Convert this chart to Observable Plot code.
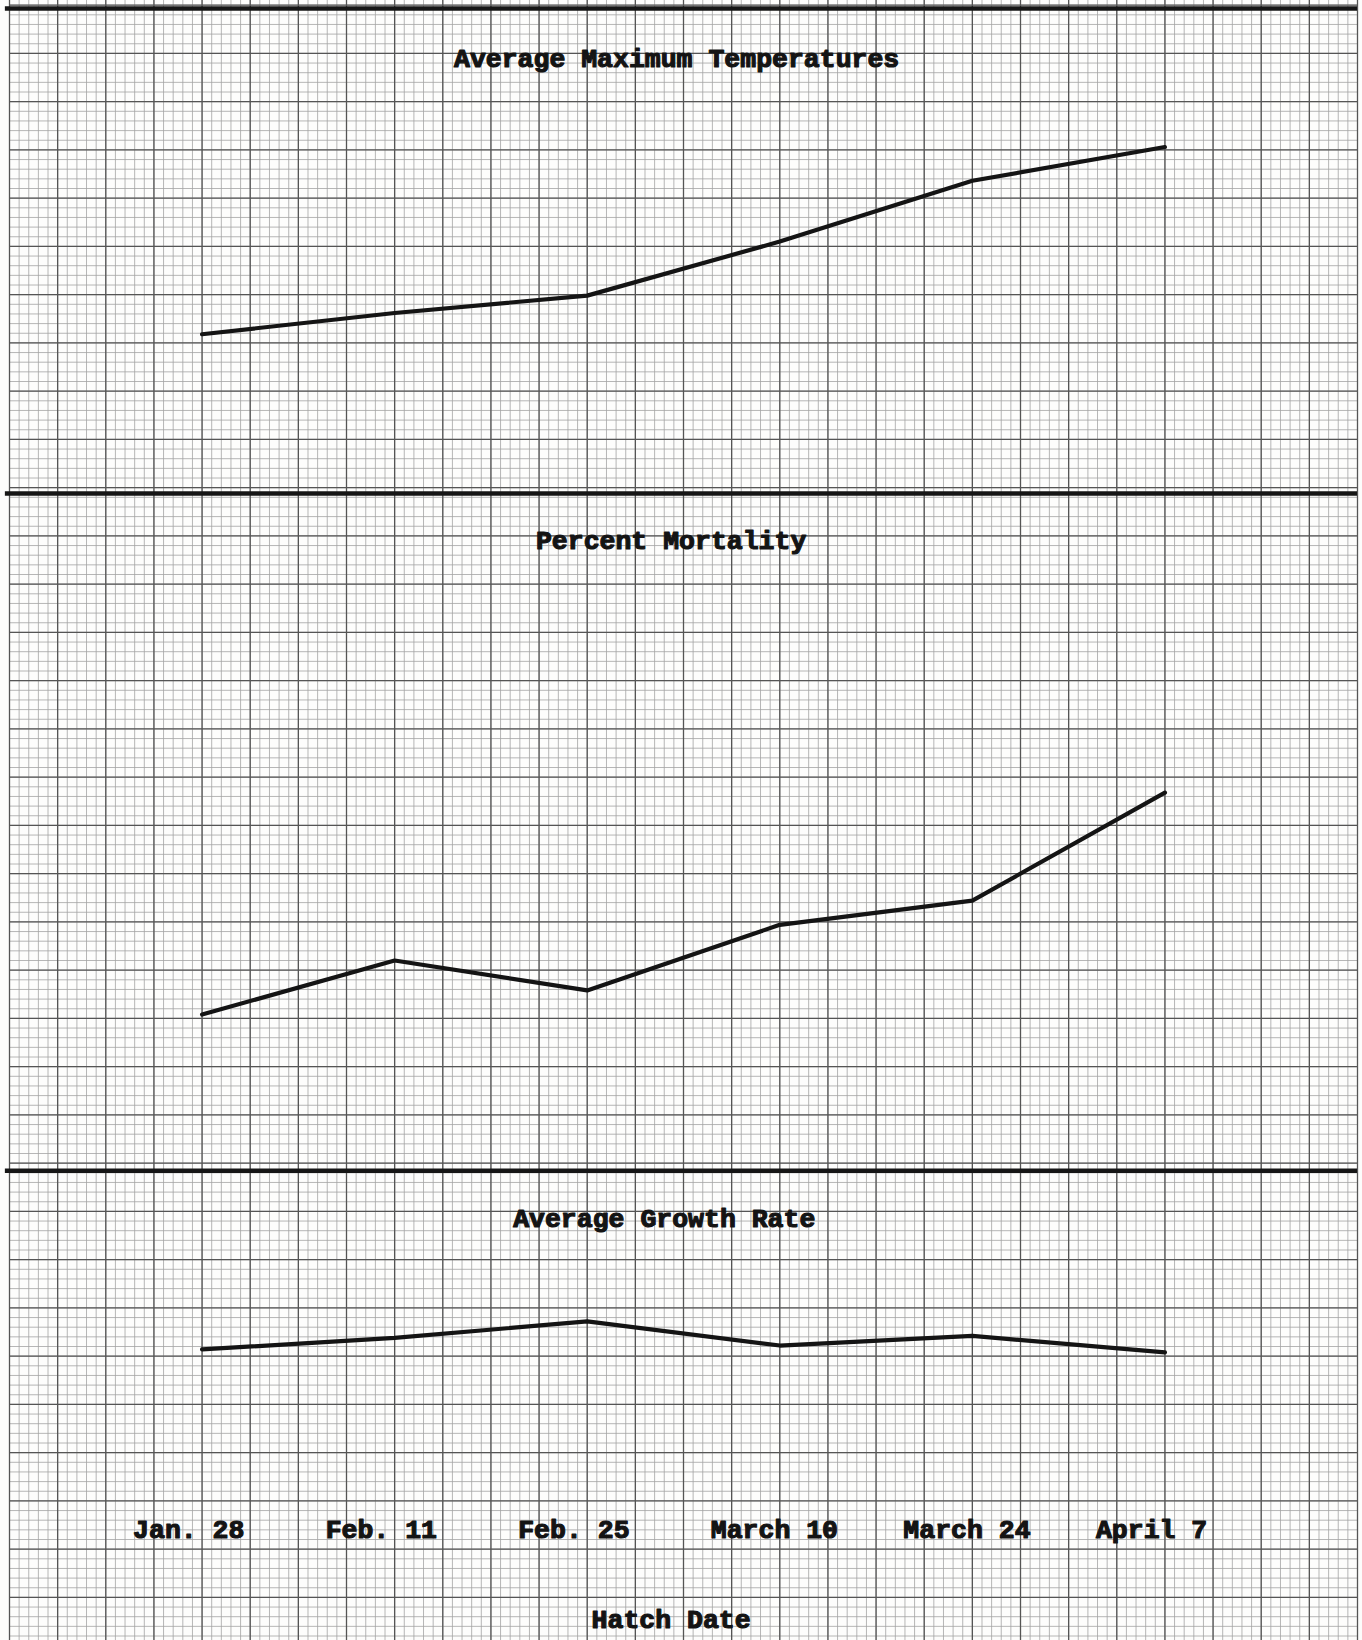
<!DOCTYPE html>
<html>
<head>
<meta charset="utf-8">
<script src="https://cdn.jsdelivr.net/npm/d3@7"></script>
<script src="https://cdn.jsdelivr.net/npm/@observablehq/plot@0.6"></script>
<style>
  html, body { margin: 0; padding: 0; background: #fff; }
  #chart { position: relative; width: 1362px; height: 1640px; overflow: hidden; background: #fdfdfc; }
  #chart svg { position: absolute; left: 0; top: 0; max-width: none; }
</style>
</head>
<body>
<div id="chart"></div>
<script>
// ---- data (in minor divisions above each panel's base line) ----
const hatchDates = ["Jan. 28", "Feb. 11", "Feb. 25", "March 10", "March 24", "April 7"];
const daysAfterJan28 = [0, 14, 28, 42, 56, 70];
const avgMaxTemperature = [15.9, 18.1, 19.9, 25.5, 31.8, 35.3];
const percentMortality = [15.4, 21.0, 17.9, 24.7, 27.2, 38.4];
const avgGrowthRate = [20.7, 21.9, 23.6, 21.1, 22.1, 20.4];
const panelTitles = ["Average Maximum Temperatures", "Percent Mortality", "Average Growth Rate"];
const xTitle = "Hatch Date";

const table = hatchDates.map((label, i) => ({
  label, day: daysAfterJan28[i],
  temp: avgMaxTemperature[i], mort: percentMortality[i], growth: avgGrowthRate[i]
}));

// ---- layout ----
const W = 1362, H = 1640;
const MINOR = 9.65, Y0 = 4.65;
const xScale = {type: "linear", domain: [-14, 84], range: [9, 1357], axis: null};
const pageY = {type: "linear", domain: [0, 170], range: [Y0, Y0 + 170 * MINOR], axis: null};
const font = "'Liberation Mono', 'Courier New', monospace";
const ink = "#141414";
const txt = {fontFamily: font, fontSize: 26.5, fontWeight: "bold", fill: ink, stroke: ink, strokeWidth: 1.2, lineAnchor: "bottom"};

const minorX = d3.range(0, 141).map(i => -14 + i * 0.7);
const majorX = d3.range(0, 29).map(i => -14 + i * 3.5);
const minorY = d3.range(0, 170);
const majorY = d3.range(0, 170, 5);

const base = Plot.plot({
  width: W, height: H,
  marginTop: 0, marginBottom: 0, marginLeft: 9, marginRight: 5,
  x: xScale, y: pageY,
  style: {background: "#fdfdfc"},
  marks: [
    Plot.ruleX(minorX, {stroke: "#a3a3a3", strokeWidth: 0.8}),
    Plot.ruleY(minorY, {stroke: "#a3a3a3", strokeWidth: 0.8}),
    Plot.ruleX(majorX, {stroke: "#555", strokeWidth: 1.3}),
    Plot.ruleY(majorY, {stroke: "#555", strokeWidth: 1.4}),
    Plot.ruleY([0.35, 50.6, 120.8], {x1: -14.3, x2: 84, stroke: "#161616", strokeWidth: 4.5}),
    Plot.text([panelTitles[0]], {x: () => 34.5, y: () => 6.4, text: d => d, textAnchor: "middle", ...txt}),
    Plot.text([panelTitles[1]], {x: () => 34.1, y: () => 56.4, text: d => d, textAnchor: "middle", ...txt}),
    Plot.text([panelTitles[2]], {x: () => 33.6, y: () => 126.6, text: d => d, textAnchor: "middle", ...txt}),
    Plot.text(table, {x: "day", y: () => 158.8, text: "label", textAnchor: "start", dx: -69, ...txt}),
    Plot.text([xTitle], {x: () => 34.1, y: () => 168.2, text: d => d, textAnchor: "middle", ...txt})
  ]
});

function panel(yDomain, yRange, key) {
  return Plot.plot({
    width: W, height: H,
    marginTop: 0, marginBottom: 0, marginLeft: 9, marginRight: 5,
    x: xScale,
    y: {type: "linear", domain: yDomain, range: yRange, axis: null},
    style: {background: "transparent"},
    marks: [
      Plot.line(table, {x: "day", y: key, stroke: ink, strokeWidth: 4.2, strokeLinejoin: "round", strokeLinecap: "round"})
    ]
  });
}

const p1 = panel([0, 50], [Y0 + 50 * MINOR, Y0], "temp");
const p2 = panel([0, 70], [Y0 + 120 * MINOR, Y0 + 50 * MINOR], "mort");
const p3 = panel([0, 40], [Y0 + 160 * MINOR, Y0 + 120 * MINOR], "growth");

const chart = document.getElementById("chart");
[base, p1, p2, p3].forEach(s => chart.appendChild(s));
</script>
</body>
</html>
